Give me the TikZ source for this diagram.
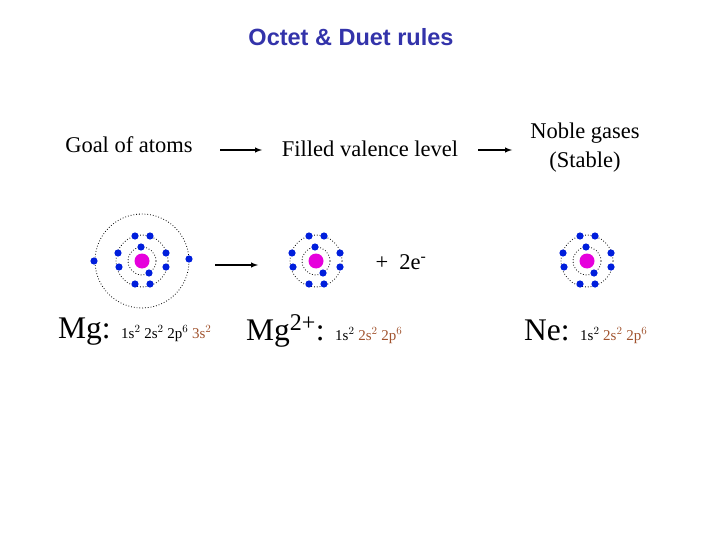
\documentclass[tikz,border=0pt]{standalone}
\usepackage{fontspec}
\setmainfont{Liberation Serif}
\newfontfamily\arialf{Liberation Sans}
\definecolor{ttl}{RGB}{51,51,170}
\definecolor{brn}{RGB}{160,82,45}
\definecolor{eblue}{RGB}{0,30,220}
\definecolor{nuc}{RGB}{230,0,220}
\newcommand{\myatom}[3]{%
\begin{scope}[shift={(#1,#2)}]
\draw[dotted,thick] (0,0) circle (14);
\draw[dotted,thick] (0,0) circle (26);
\fill[nuc] (0,0) circle (7.5);
\foreach \a/\b in {-1/-14,7/12,-7/-25,8/-25,24/-8,24/6,8/23,-7/23,-23/6,-24/-8}
  \fill[eblue] (\a,\b) circle (3.6);
\ifnum#3=1
\draw[dotted,thick] (0,0) circle (47);
\fill[eblue] (-48,0) circle (3.6);
\fill[eblue] (47,-2) circle (3.6);
\fi
\end{scope}}
\begin{document}
\begin{tikzpicture}[x=1pt,y=-1pt,
  lbl/.style={font=\fontsize{22.5}{29}\selectfont,align=center},
  arr/.style={-latex,line width=1.4pt}]
\useasboundingbox (0,0) rectangle (720,540);
\node[font=\arialf\bfseries\fontsize{23.5}{26}\selectfont,text=ttl] (title) at (351,37) {Octet \& Duet rules};
\node[lbl] (goal) at (129,145) {Goal of atoms};
\node[lbl] (fill) at (370,149) {Filled valence level};
\node[lbl] (noble) at (585,148) {Noble gases\\(Stable)};
\draw[arr] (220,150) -- (262,150);
\draw[arr] (478,150) -- (512,150);
\myatom{142}{261}{1}
\myatom{316}{261}{0}
\myatom{587}{261}{0}
\coordinate (a1) at (215,265); \coordinate (a2) at (258,265);
\draw[arr] (a1) -- (a2);
\node[lbl,anchor=west] (plus) at (372,262) {+\hspace{0.5em}2e\textsuperscript{-}};
\newcommand{\cfg}[1]{{\fontsize{15}{17}\selectfont #1}}
\node[anchor=base west,inner sep=0] (mg) at (58,338) {\fontsize{31.5}{33}\selectfont Mg: \cfg{1s$^{2}$ 2s$^{2}$ 2p$^{6}$ \textcolor{brn}{3s$^{2}$}}};
\node[anchor=base west,inner sep=0] (mg2) at (246,340) {\fontsize{31.5}{33}\selectfont Mg\textsuperscript{\fontsize{24}{24}\selectfont 2+}: \cfg{1s$^{2}$ \textcolor{brn}{2s$^{2}$ 2p$^{6}$}}};
\node[anchor=base west,inner sep=0] (ne) at (524,340) {\fontsize{31.5}{33}\selectfont Ne: \cfg{1s$^{2}$ \textcolor{brn}{2s$^{2}$ 2p$^{6}$}}};
\end{tikzpicture}
\end{document}
